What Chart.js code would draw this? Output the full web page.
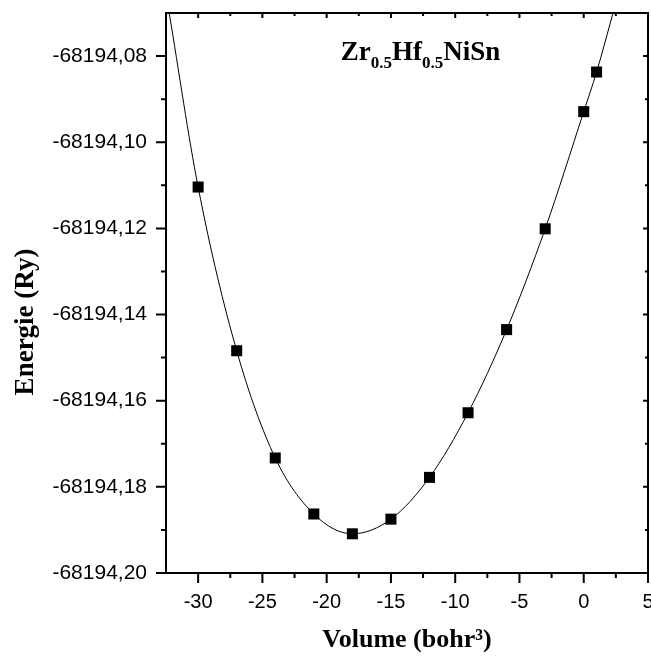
<!DOCTYPE html>
<html><head><meta charset="utf-8">
<script src="https://cdn.jsdelivr.net/npm/chart.js@4/dist/chart.umd.min.js"></script>
<style>html,body{margin:0;padding:0;background:#fff;} #wrap{width:651px;height:660px;}</style>
</head><body><div id="wrap"><canvas id="c" width="651" height="660"></canvas></div>
<script>
// ---- data ----
const volumes  = [-30, -27, -24, -21, -18, -15, -12, -9, -6, -3, 0, 1];
const energies = [-68194.1104, -68194.1484, -68194.1733, -68194.1863, -68194.1909, -68194.1875,
                  -68194.1778, -68194.1628, -68194.1435, -68194.1201, -68194.0929, -68194.0837];
// where the fitted curve leaves the frame
const fitEndVolumes  = [-32.25, 2.28];
const fitEndEnergies = [-68194.07, -68194.07];
const xTicks      = [-30, -25, -20, -15, -10, -5, 0, 5];
const xMinorTicks = [-27.5, -22.5, -17.5, -12.5, -7.5, -2.5, 2.5];
const yTicks      = [-68194.20, -68194.18, -68194.16, -68194.14, -68194.12, -68194.10, -68194.08];
const yMinorTicks = [-68194.19, -68194.17, -68194.15, -68194.13, -68194.11, -68194.09];
const xRange = [-32.5, 5];
const yRange = [-68194.20, -68194.07];
const titleParts = [['Zr', false], ['0.5', true], ['Hf', false], ['0.5', true], ['NiSn', false]];
const yTitle = 'Energie (Ry)';
const xTitle = 'Volume (bohr³)';

const points = volumes.map((v, i) => ({x: v, y: energies[i]}));
const curve = [{x: fitEndVolumes[0], y: fitEndEnergies[0]}, ...points, {x: fitEndVolumes[1], y: fitEndEnergies[1]}];

const framePlugin = {
  id: 'frame',
  afterDatasetsDraw(chart) {
    const {ctx, chartArea: a, scales: {x, y}} = chart;
    ctx.save();
    ctx.strokeStyle = '#000';
    ctx.lineWidth = 2;
    ctx.strokeRect(a.left, a.top, a.right - a.left, a.bottom - a.top);
    ctx.beginPath();
    xTicks.forEach(v => { const p = x.getPixelForValue(v);
      ctx.moveTo(p, a.bottom); ctx.lineTo(p, a.bottom + 10);
      ctx.moveTo(p, a.top); ctx.lineTo(p, a.top + 5); });
    xMinorTicks.forEach(v => { const p = x.getPixelForValue(v);
      ctx.moveTo(p, a.bottom); ctx.lineTo(p, a.bottom + 5);
      ctx.moveTo(p, a.top); ctx.lineTo(p, a.top + 3); });
    yTicks.forEach(v => { const p = y.getPixelForValue(v);
      ctx.moveTo(a.left - 10, p); ctx.lineTo(a.left, p);
      ctx.moveTo(a.right, p); ctx.lineTo(a.right - 5, p); });
    yMinorTicks.forEach(v => { const p = y.getPixelForValue(v);
      ctx.moveTo(a.left - 5, p); ctx.lineTo(a.left, p);
      ctx.moveTo(a.right, p); ctx.lineTo(a.right - 3, p); });
    ctx.stroke();
    ctx.restore();
  },
  afterDraw(chart) {
    const ctx = chart.ctx;
    ctx.save();
    ctx.fillStyle = '#000';
    ctx.textBaseline = 'alphabetic';
    ctx.textAlign = 'left';
    const big = 'bold 27px "Liberation Serif"', small = 'bold 17px "Liberation Serif"';
    let w = 0;
    titleParts.forEach(([t, sub]) => { ctx.font = sub ? small : big; w += ctx.measureText(t).width; });
    let xx = 420.5 - w / 2;
    titleParts.forEach(([t, sub]) => {
      ctx.font = sub ? small : big;
      ctx.fillText(t, xx, sub ? 68 : 60);
      xx += ctx.measureText(t).width;
    });
    // y axis title
    ctx.translate(26, 322);
    ctx.rotate(-Math.PI / 2);
    ctx.textAlign = 'center';
    ctx.textBaseline = 'middle';
    ctx.font = 'bold 27px "Liberation Serif"';
    ctx.fillText(yTitle, 0, 0);
    ctx.restore();
  }
};

new Chart(document.getElementById('c'), {
  type: 'scatter',
  data: {
    datasets: [
      { data: points, showLine: false, pointStyle: 'rect', pointRadius: 7.8, pointHoverRadius: 7.8,
        backgroundColor: '#000', borderWidth: 0, order: 0 },
      { data: curve, showLine: true, borderColor: '#000', borderWidth: 1, pointRadius: 0, pointHoverRadius: 0,
        cubicInterpolationMode: 'monotone', fill: false, order: 1 }
    ]
  },
  options: {
    responsive: false, animation: false, devicePixelRatio: 1,
    layout: { autoPadding: false, padding: { top: 13, right: 3, left: 0, bottom: 0 } },
    plugins: { legend: { display: false }, tooltip: { enabled: false } },
    scales: {
      x: {
        type: 'linear', min: xRange[0], max: xRange[1],
        grid: { display: false, drawTicks: false }, border: { display: false },
        afterBuildTicks: s => { s.ticks = xTicks.map(v => ({value: v})); },
        afterFit: s => { s.height = 87; s.paddingLeft = 0; s.paddingRight = 0; },
        ticks: { color: '#000', padding: 17, maxRotation: 0, autoSkip: false,
          font: { family: 'Liberation Sans', size: 20 }, callback: v => String(v) },
        title: { display: true, text: xTitle, color: '#000', padding: { top: 0, bottom: 4 },
          font: { family: 'Liberation Serif', size: 26, weight: 'bold' } }
      },
      y: {
        type: 'linear', min: yRange[0], max: yRange[1],
        grid: { display: false, drawTicks: false }, border: { display: false },
        afterBuildTicks: s => { s.ticks = yTicks.map(v => ({value: v})); },
        afterFit: s => { s.width = 166; s.paddingTop = 0; s.paddingBottom = 0; },
        ticks: { color: '#000', padding: 19, autoSkip: false,
          font: { family: 'Liberation Sans', size: 21 }, callback: v => Number(v).toFixed(2).replace('.', ',') },
        title: { display: false }
      }
    }
  },
  plugins: [framePlugin]
});
</script></body></html>
